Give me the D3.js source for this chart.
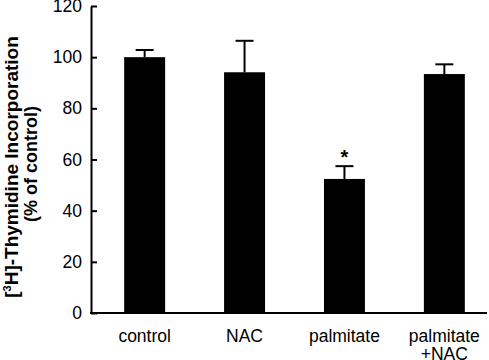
<!DOCTYPE html>
<html>
<head>
<meta charset="utf-8">
<script src="https://cdn.jsdelivr.net/npm/d3@7"></script>
<style>
  body { margin: 0; background: #fff; }
  svg { display: block; font-family: "Liberation Sans", Arial, Helvetica, sans-serif; }
</style>
</head>
<body>
<svg id="chart" width="489" height="360"></svg>
<script>
// data
var categories = ["control", "NAC", "palmitate", "palmitate\n+NAC"];
var means = [100, 94.1, 52.4, 93.4];
var errors = [2.8, 12.3, 5.0, 3.8];
var significant = [false, false, true, false];
var yTicks = [0, 20, 40, 60, 80, 100, 120];

var svg = d3.select("#chart");

var x = d3.scaleBand()
    .domain(categories)
    .range([94.7, 494.3])
    .paddingInner(0.59)
    .paddingOuter(0.295);

var y = d3.scaleLinear()
    .domain([0, 120])
    .range([313, 6]);

// y axis, ticks pointing inward
var yAxis = svg.append("g")
    .attr("transform", "translate(91,0)")
    .call(d3.axisLeft(y).tickValues(yTicks).tickSize(-6).tickSizeOuter(0).tickPadding(9));
yAxis.select(".domain").attr("stroke", "#000").attr("stroke-width", 2);
yAxis.selectAll(".tick line").attr("stroke", "#000").attr("stroke-width", 2);
yAxis.selectAll(".tick text")
    .attr("fill", "#000")
    .style("font-size", "17.5px")
    .style("font-family", "Liberation Sans, Arial, sans-serif");

// baseline
svg.append("line")
    .attr("x1", 90).attr("x2", 487)
    .attr("y1", y(0)).attr("y2", y(0))
    .attr("stroke", "#000").attr("stroke-width", 2);

// bars
svg.append("g").selectAll("rect")
    .data(means)
    .enter()
    .append("rect")
    .attr("x", (d, i) => x(categories[i]))
    .attr("width", x.bandwidth())
    .attr("y", d => y(d))
    .attr("height", d => y(0) - y(d))
    .attr("fill", "#000");

// error bars (upper only)
var err = svg.append("g").attr("stroke", "#000").attr("stroke-width", 2);
means.forEach(function(m, i) {
    var cx = x(categories[i]) + x.bandwidth() / 2;
    err.append("line")
        .attr("x1", cx).attr("x2", cx)
        .attr("y1", y(m)).attr("y2", y(m + errors[i]));
    err.append("line")
        .attr("x1", cx - 9).attr("x2", cx + 9)
        .attr("y1", y(m + errors[i])).attr("y2", y(m + errors[i]));
    if (significant[i]) {
        svg.append("text")
            .attr("x", cx)
            .attr("y", y(m + errors[i]) - 2)
            .attr("text-anchor", "middle")
            .style("font-size", "20px")
            .style("font-weight", "bold")
            .text("*");
    }
});

// category labels (may be two lines)
svg.append("g").selectAll("text")
    .data(categories)
    .enter()
    .append("text")
    .attr("text-anchor", "middle")
    .style("font-size", "17.5px")
    .each(function(d) {
        var t = d3.select(this);
        var cx = x(d) + x.bandwidth() / 2;
        d.split("\n").forEach(function(part, k) {
            t.append("tspan")
                .attr("x", cx)
                .attr("y", 341.5 + k * 18.5)
                .text(part);
        });
    });

// y label
var l1 = svg.append("text")
    .attr("transform", "translate(17.5,167) rotate(-90)")
    .attr("text-anchor", "middle")
    .style("font-size", "19px")
    .style("font-weight", "bold");
l1.append("tspan").text("[");
l1.append("tspan").attr("dy", -7).style("font-size", "11px").text("3");
l1.append("tspan").attr("dy", 7).text("H]-Thymidine Incorporation");

svg.append("text")
    .attr("transform", "translate(36.5,164) rotate(-90)")
    .attr("text-anchor", "middle")
    .style("font-size", "18px")
    .style("font-weight", "bold")
    .text("(% of control)");
</script>
</body>
</html>
